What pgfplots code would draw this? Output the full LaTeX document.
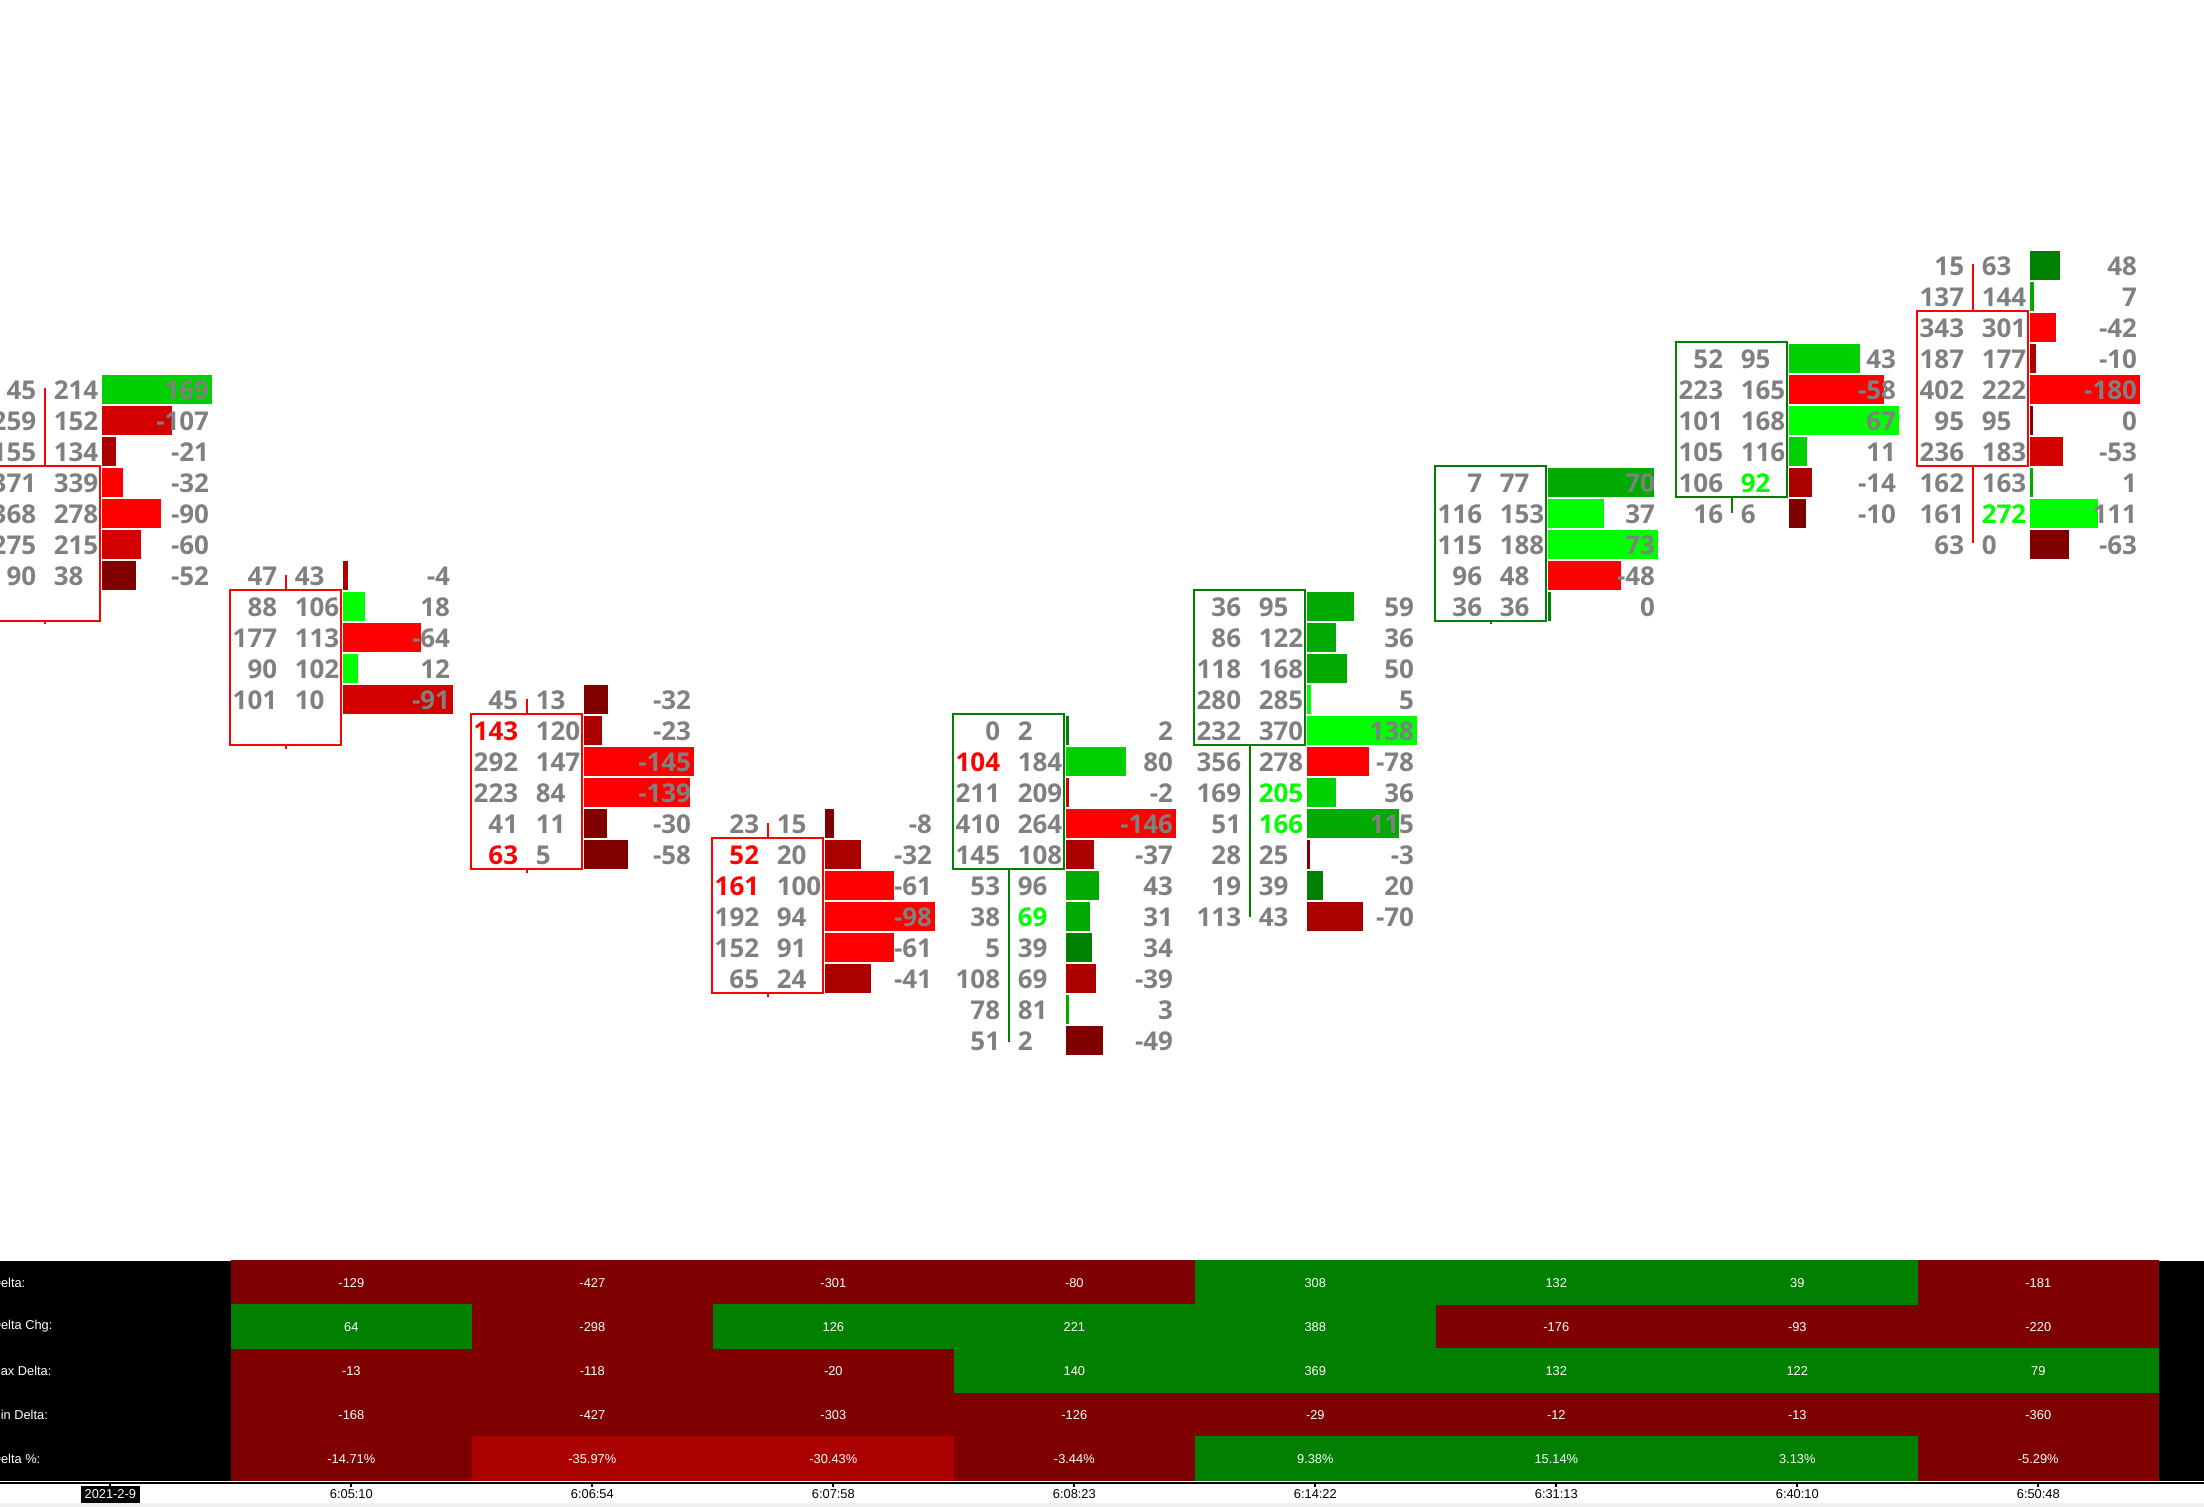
\documentclass[border=0pt]{standalone}
\usepackage{fontspec}
\usepackage{pgfplots}
\usepackage{pgfplotstable}
\pgfplotsset{compat=1.18}
\newfontfamily\nf{Open Sans}
\newfontfamily\tf{Liberation Sans}
\newcommand\numfont{\nf\bfseries\fontsize{5.25}{6}\selectfont}
\newcommand\tabfont{\tf\fontsize{2.6}{3}\selectfont}
\definecolor{gA}{HTML}{00FF00}
\definecolor{gB}{HTML}{00D000}
\definecolor{gC}{HTML}{00AA00}
\definecolor{gD}{HTML}{008000}
\definecolor{rA}{HTML}{FF0000}
\definecolor{rB}{HTML}{D40000}
\definecolor{rC}{HTML}{AA0000}
\definecolor{rD}{HTML}{800000}
\definecolor{numgrey}{HTML}{808080}
\definecolor{cellred}{HTML}{7F0000}
\definecolor{cellgreen}{HTML}{007F00}
\definecolor{cellbright}{HTML}{AA0000}
\definecolor{stripgrey}{HTML}{F0F0F0}

% k = candle, L = price level, bid, ask, d = delta, m = max |delta| of candle,
% c = bar colour class, bh/ah = highlighted bid/ask
\pgfplotstableread{
k L bid ask d m c bh ah
0 21 45 214 169 169 2 0 0
0 20 259 152 -107 169 6 0 0
0 19 155 134 -21 169 7 0 0
0 18 371 339 -32 169 5 0 0
0 17 368 278 -90 169 5 0 0
0 16 275 215 -60 169 6 0 0
0 15 90 38 -52 169 8 0 0
1 15 47 43 -4 91 7 0 0
1 14 88 106 18 91 1 0 0
1 13 177 113 -64 91 5 0 0
1 12 90 102 12 91 1 0 0
1 11 101 10 -91 91 6 0 0
2 11 45 13 -32 145 8 0 0
2 10 143 120 -23 145 7 1 0
2 9 292 147 -145 145 5 0 0
2 8 223 84 -139 145 5 0 0
2 7 41 11 -30 145 8 0 0
2 6 63 5 -58 145 8 1 0
3 7 23 15 -8 98 8 0 0
3 6 52 20 -32 98 7 1 0
3 5 161 100 -61 98 5 1 0
3 4 192 94 -98 98 5 0 0
3 3 152 91 -61 98 5 0 0
3 2 65 24 -41 98 7 0 0
4 10 0 2 2 146 4 0 0
4 9 104 184 80 146 2 1 0
4 8 211 209 -2 146 6 0 0
4 7 410 264 -146 146 5 0 0
4 6 145 108 -37 146 7 0 0
4 5 53 96 43 146 3 0 0
4 4 38 69 31 146 3 0 1
4 3 5 39 34 146 4 0 0
4 2 108 69 -39 146 7 0 0
4 1 78 81 3 146 3 0 0
4 0 51 2 -49 146 8 0 0
5 14 36 95 59 138 3 0 0
5 13 86 122 36 138 3 0 0
5 12 118 168 50 138 3 0 0
5 11 280 285 5 138 1 0 0
5 10 232 370 138 138 1 0 0
5 9 356 278 -78 138 5 0 0
5 8 169 205 36 138 2 0 1
5 7 51 166 115 138 3 0 1
5 6 28 25 -3 138 8 0 0
5 5 19 39 20 138 4 0 0
5 4 113 43 -70 138 7 0 0
6 18 7 77 70 73 3 0 0
6 17 116 153 37 73 1 0 0
6 16 115 188 73 73 1 0 0
6 15 96 48 -48 73 5 0 0
6 14 36 36 0 73 4 0 0
7 22 52 95 43 67 2 0 0
7 21 223 165 -58 67 5 0 0
7 20 101 168 67 67 1 0 0
7 19 105 116 11 67 2 0 0
7 18 106 92 -14 67 7 0 1
7 17 16 6 -10 67 8 0 0
8 25 15 63 48 180 4 0 0
8 24 137 144 7 180 3 0 0
8 23 343 301 -42 180 5 0 0
8 22 187 177 -10 180 7 0 0
8 21 402 222 -180 180 5 0 0
8 20 95 95 0 180 8 0 0
8 19 236 183 -53 180 6 0 0
8 18 162 163 1 180 3 0 0
8 17 161 272 111 180 1 0 1
8 16 63 0 -63 180 8 0 0
}\bars

% summary table: k = candle, t = row centre, v = value, c = colour class, p = percent row
\pgfplotstableread{
k t v c p
1 4.5 -129 0 0
2 4.5 -427 0 0
3 4.5 -301 0 0
4 4.5 -80 0 0
5 4.5 308 1 0
6 4.5 132 1 0
7 4.5 39 1 0
8 4.5 -181 0 0
1 3.5 64 1 0
2 3.5 -298 0 0
3 3.5 126 1 0
4 3.5 221 1 0
5 3.5 388 1 0
6 3.5 -176 0 0
7 3.5 -93 0 0
8 3.5 -220 0 0
1 2.5 -13 0 0
2 2.5 -118 0 0
3 2.5 -20 0 0
4 2.5 140 1 0
5 2.5 369 1 0
6 2.5 132 1 0
7 2.5 122 1 0
8 2.5 79 1 0
1 1.5 -168 0 0
2 1.5 -427 0 0
3 1.5 -303 0 0
4 1.5 -126 0 0
5 1.5 -29 0 0
6 1.5 -12 0 0
7 1.5 -13 0 0
8 1.5 -360 0 0
1 0.5 -14.71 0 1
2 0.5 -35.97 2 1
3 0.5 -30.43 2 1
4 0.5 -3.44 0 1
5 0.5 9.38 1 1
6 0.5 15.14 1 1
7 0.5 3.13 1 1
8 0.5 -5.29 0 1
}\summ

\pgfplotsset{
  nomark/.style={only marks, mark=*, mark size=0pt, mark options={draw=none,fill=none}},
  dbar/.style 2 args={nomark,
    restrict expr to domain={\thisrow{c}}{#1},
    error bars/.cd, x dir=plus, x explicit, error mark=none,
    error bar style={line width=5.99pt, draw=#2, line cap=butt}},
  cell/.style 2 args={nomark,
    restrict expr to domain={\thisrow{c}}{#1},
    error bars/.cd, x dir=plus, x explicit, error mark=none,
    error bar style={line width=9pt, draw=#2, line cap=butt}},
  ntxt/.style 2 args={nomark,
    point meta=explicit symbolic, nodes near coords={\pgfplotspointmeta},
    every node near coord/.append style={font=\numfont, inner sep=0pt, text=#1, anchor=#2}},
  ttxt/.style 2 args={nomark,
    point meta=explicit symbolic, nodes near coords={\pgfplotspointmeta},
    every node near coord/.append style={font=\tabfont, inner sep=0pt, text=#1, anchor=#2}},
  base/.style={at={(0,0)}, anchor=south west, width=15.68cm, height=10.72cm,
    scale only axis, xmin=-0.18664, xmax=8.95888,
    axis line style={draw=none}, ticks=none, unbounded coords=jump},
}
\newcommand\barplot[2]{\addplot[dbar={#1}{#2}] table[x expr=\thisrow{k}+0.2374, y expr=\thisrow{L}+0.03,
  x error expr={max(0.4567*abs(\thisrow{d})/\thisrow{m},0.011)}]{\bars};}

\begin{document}
\begin{tikzpicture}
\path[use as bounding box] (0,0) rectangle (15.68,10.72);
\clip (0,0) rectangle (15.68,10.72);
\begin{axis}[base, ymin=-15.0045, ymax=33.5902]
% candle bodies
\addplot[rA, line width=0.4pt, mark=none] coordinates {
(-0.2304,13.57) (0.2275,13.57) (0.2275,18.57) (-0.2304,18.57) (-0.2304,13.57) (0.2275,13.57) (nan,nan)
(0.7696,9.57) (1.2275,9.57) (1.2275,14.57) (0.7696,14.57) (0.7696,9.57) (1.2275,9.57) (nan,nan)
(1.7696,5.57) (2.2275,5.57) (2.2275,10.57) (1.7696,10.57) (1.7696,5.57) (2.2275,5.57) (nan,nan)
(2.7696,1.57) (3.2275,1.57) (3.2275,6.57) (2.7696,6.57) (2.7696,1.57) (3.2275,1.57) (nan,nan)
(7.7696,18.57) (8.2275,18.57) (8.2275,23.57) (7.7696,23.57) (7.7696,18.57) (8.2275,18.57)
};
\addplot[gD, line width=0.4pt, mark=none] coordinates {
(3.7696,5.57) (4.2275,5.57) (4.2275,10.57) (3.7696,10.57) (3.7696,5.57) (4.2275,5.57) (nan,nan)
(4.7696,9.57) (5.2275,9.57) (5.2275,14.57) (4.7696,14.57) (4.7696,9.57) (5.2275,9.57) (nan,nan)
(5.7696,13.57) (6.2275,13.57) (6.2275,18.57) (5.7696,18.57) (5.7696,13.57) (6.2275,13.57) (nan,nan)
(6.7696,17.57) (7.2275,17.57) (7.2275,22.57) (6.7696,22.57) (6.7696,17.57) (7.2275,17.57)
};
% wicks
\addplot[rA, line width=0.4pt, mark=none] coordinates {
(0,18.57) (0,21.07) (nan,nan) (0,13.57) (0,13.45) (nan,nan)
(1,14.57) (1,15.05) (nan,nan) (1,9.57) (1,9.45) (nan,nan)
(2,10.57) (2,11.05) (nan,nan) (2,5.57) (2,5.45) (nan,nan)
(3,6.57) (3,7.05) (nan,nan) (3,1.57) (3,1.45) (nan,nan)
(8,23.57) (8,25.08) (nan,nan) (8,18.57) (8,16.07)
};
\addplot[gD, line width=0.4pt, mark=none] coordinates {
(4,5.57) (4,0.0) (nan,nan)
(5,9.57) (5,4.03) (nan,nan)
(6,13.57) (6,13.45) (nan,nan)
(7,17.57) (7,17.06)
};
% delta histogram bars
\barplot{0.5:1.5}{gA}
\barplot{1.5:2.5}{gB}
\barplot{2.5:3.5}{gC}
\barplot{3.5:4.5}{gD}
\barplot{4.5:5.5}{rA}
\barplot{5.5:6.5}{rB}
\barplot{6.5:7.5}{rC}
\barplot{7.5:8.5}{rD}
% bid / ask / delta numbers
\addplot[ntxt={numgrey}{east}, restrict expr to domain={\thisrow{bh}}{-0.5:0.5}]
  table[x expr=\thisrow{k}-0.0327, y=L, meta=bid]{\bars};
\addplot[ntxt={rA}{east}, restrict expr to domain={\thisrow{bh}}{0.5:1.5}]
  table[x expr=\thisrow{k}-0.0327, y=L, meta=bid]{\bars};
\addplot[ntxt={numgrey}{west}, restrict expr to domain={\thisrow{ah}}{-0.5:0.5}]
  table[x expr=\thisrow{k}+0.0327, y=L, meta=ask]{\bars};
\addplot[ntxt={gA}{west}, restrict expr to domain={\thisrow{ah}}{0.5:1.5}]
  table[x expr=\thisrow{k}+0.0327, y=L, meta=ask]{\bars};
\addplot[ntxt={numgrey}{east}]
  table[x expr=\thisrow{k}+0.6848, y=L, meta=d]{\bars};
\end{axis}

\begin{axis}[base, ymin=-0.5942, ymax=33.655]
\addplot[fill=black, draw=none] coordinates {(-0.3,0) (9.1,0) (9.1,5) (-0.3,5)};
\addplot[fill=stripgrey, draw=none] coordinates {(-0.3,-0.7) (9.1,-0.7) (9.1,-0.498) (-0.3,-0.498)};
\addplot[cell={-0.5:0.5}{cellred}] table[x expr=\thisrow{k}-0.2288, y=t, x error expr=1.0]{\summ};
\addplot[cell={0.5:1.5}{cellgreen}] table[x expr=\thisrow{k}-0.2288, y=t, x error expr=1.0]{\summ};
\addplot[cell={1.5:2.5}{cellbright}] table[x expr=\thisrow{k}-0.2288, y=t, x error expr=1.0]{\summ};
\addplot[ttxt={white}{center}, restrict expr to domain={\thisrow{p}}{-0.5:0.5}]
  table[x expr=\thisrow{k}+0.2712, y=t, meta=v]{\summ};
\addplot[ttxt={white}{center}, nodes near coords={\pgfplotspointmeta\%}, restrict expr to domain={\thisrow{p}}{0.5:1.5}]
  table[x expr=\thisrow{k}+0.2712, y=t, meta=v]{\summ};
\addplot[ttxt={white}{west}, every node near coord/.append style={xshift=-0.077cm}] coordinates {
(-0.18,4.5) [Delta:] (-0.18,3.5) [Delta Chg:] (-0.18,0.5) [Delta \%:]};
\addplot[ttxt={white}{west}, every node near coord/.append style={xshift=-0.089cm}] coordinates {
(-0.18,2.5) [Max Delta:] (-0.18,1.5) [Min Delta:]};
% time axis
\addplot[black, line width=0.35pt, mark=none] coordinates {(-0.3,-0.051) (9.1,-0.051)};
\addplot[black, line width=0.35pt, mark=none] coordinates {
(0.2712,-0.051) (0.2712,-0.15) (nan,nan) (1.2712,-0.051) (1.2712,-0.15) (nan,nan)
(2.2712,-0.051) (2.2712,-0.15) (nan,nan) (3.2712,-0.051) (3.2712,-0.15) (nan,nan)
(4.2712,-0.051) (4.2712,-0.15) (nan,nan) (5.2712,-0.051) (5.2712,-0.15) (nan,nan)
(6.2712,-0.051) (6.2712,-0.15) (nan,nan) (7.2712,-0.051) (7.2712,-0.15) (nan,nan)
(8.2712,-0.051) (8.2712,-0.15)};
\addplot[ttxt={white}{center}, every node near coord/.append style={fill=black, inner xsep=0.8pt, inner ysep=0.8pt}]
  coordinates {(0.2712,-0.3035) [2021-2-9]};
\addplot[ttxt={black}{center}] coordinates {
(1.2712,-0.3035) [6:05:10] (2.2712,-0.3035) [6:06:54] (3.2712,-0.3035) [6:07:58]
(4.2712,-0.3035) [6:08:23] (5.2712,-0.3035) [6:14:22] (6.2712,-0.3035) [6:31:13]
(7.2712,-0.3035) [6:40:10] (8.2712,-0.3035) [6:50:48]};
\end{axis}
\end{tikzpicture}
\end{document}
